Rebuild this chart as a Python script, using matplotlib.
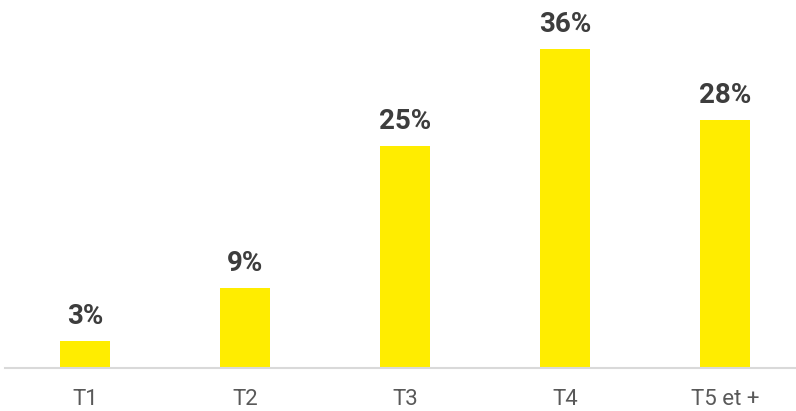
import matplotlib
matplotlib.use("Agg")
import matplotlib.pyplot as plt

categories = ["T1", "T2", "T3", "T4", "T5 et +"]
values = [3, 9, 25, 36, 28]
labels = ["3%", "9%", "25%", "36%", "28%"]

plt.rcParams["font.family"] = ["Roboto", "DejaVu Sans"]

W, H = 796, 411
fig = plt.figure(figsize=(W / 100, H / 100), dpi=100)
px_per_unit = 8.87
axis_y = 368
ax = fig.add_axes([5 / W, (H - axis_y) / H, 800 / W, axis_y / H])
ax.set_ylim(0, axis_y / px_per_unit)
ax.set_xlim(-0.5, 4.5)

x = range(len(categories))
ax.bar(x, values, width=0.3125, color="#FFED00")

for xi, v, lab in zip(x, values, labels):
    ax.annotate(lab, (xi, v), xytext=(0, 17), textcoords="offset pixels",
                ha="center", va="baseline", fontsize=20, fontweight="bold",
                color="#3d3d3d")

ax.set_xticks(list(x))
ax.set_xticklabels(categories, fontsize=16, color="#595959")
ax.tick_params(axis="x", length=0, pad=15)
ax.set_yticks([])
for s in ["top", "right", "left"]:
    ax.spines[s].set_visible(False)
ax.spines["bottom"].set_color("#d9d9d9")
ax.spines["bottom"].set_linewidth(1.5)

fig.savefig("out.png", dpi=100)
